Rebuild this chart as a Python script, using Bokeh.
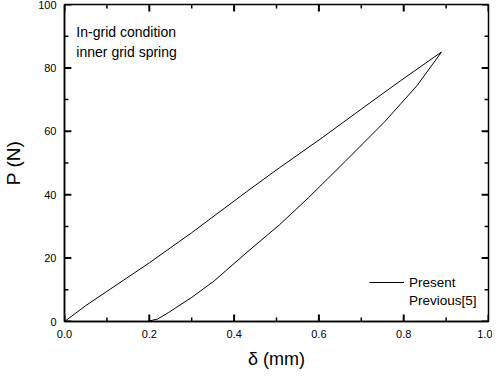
from bokeh.plotting import figure
from bokeh.models import (Range1d, FixedTicker, PrintfTickFormatter,
                          Label, Legend, LegendItem)
from bokeh.embed import file_html
from bokeh.resources import INLINE

# Data
loading_delta = [0.0, 0.05, 0.1, 0.2, 0.3, 0.43, 0.507, 0.608, 0.70, 0.793, 0.889]
loading_P = [0.0, 5.0, 9.5, 18.5, 28.0, 41.0, 48.5, 58.0, 67.0, 76.0, 85.0]
unloading_delta = [0.195, 0.22, 0.245, 0.30, 0.353, 0.43, 0.507, 0.575, 0.662, 0.755, 0.832, 0.889]
unloading_P = [0.0, 0.8, 2.8, 7.6, 12.8, 21.8, 30.5, 39.0, 50.5, 63.0, 74.5, 85.0]
previous_delta = []
previous_P = []

x_major_ticks = [0.0, 0.2, 0.4, 0.6, 0.8, 1.0]
x_minor_ticks = [0.1, 0.3, 0.5, 0.7, 0.9]
y_major_ticks = [0, 20, 40, 60, 80, 100]
y_minor_ticks = [10, 30, 50, 70, 90]

x_label = "δ (mm)"
y_label = "P (N)"
note_lines = ["In-grid condition", "inner grid spring"]
legend_labels = ["Present", "Previous[5]"]

FONT = "Liberation Sans"
X0, X1, Y0, Y1 = 0, 1, 0, 100
W, H = 492, 372
BL, BR, BT, BB = 56, 4, 4, 51
FW, FH = W - BL - BR, H - BT - BB

p = figure(width=W, height=H, output_backend="svg", toolbar_location=None,
           x_range=Range1d(X0, X1), y_range=Range1d(Y0, Y1),
           min_border_left=BL, min_border_right=BR, min_border_top=BT, min_border_bottom=BB)
p.xgrid.visible = False
p.ygrid.visible = False
p.outline_line_color = "black"
p.outline_line_width = 1.5
p.background_fill_color = "white"
p.border_fill_color = "white"

for ax, major in ((p.xaxis[0], x_major_ticks), (p.yaxis[0], y_major_ticks)):
    ax.ticker = FixedTicker(ticks=major)
    ax.axis_line_color = "black"
    ax.axis_line_width = 1.5
    ax.major_tick_in = 0
    ax.major_tick_out = 0
    ax.minor_tick_in = 0
    ax.minor_tick_out = 0
    ax.major_label_text_font = FONT
    ax.major_label_text_font_size = "11px"
    ax.major_label_text_color = "black"
    ax.major_label_standoff = 8
    ax.axis_label_text_font = FONT
    ax.axis_label_text_font_style = "normal"
    ax.axis_label_text_color = "black"

xa = p.xaxis[0]
xa.formatter = PrintfTickFormatter(format="%.1f")
xa.axis_label = x_label
xa.axis_label_text_font_size = "18px"
xa.axis_label_standoff = 8

ya = p.yaxis[0]
ya.axis_label = y_label
ya.axis_label_text_font_size = "19px"
ya.axis_label_standoff = 11

# inward tick marks on all four sides (lengths in pixels converted to data units)
px_x = (X1 - X0) / FW
px_y = (Y1 - Y0) / FH
MAJ, MIN = 7, 4
for ticks, length, lw in ((x_major_ticks, MAJ, 2), (x_minor_ticks, MIN, 1.5)):
    n = len(ticks)
    p.segment(x0=ticks, y0=[Y0] * n, x1=ticks, y1=[Y0 + length * px_y] * n,
              line_color="black", line_width=lw)
    p.segment(x0=ticks, y0=[Y1] * n, x1=ticks, y1=[Y1 - length * px_y] * n,
              line_color="black", line_width=lw)
for ticks, length, lw in ((y_major_ticks, MAJ, 2), (y_minor_ticks, MIN, 1.5)):
    n = len(ticks)
    p.segment(x0=[X0] * n, y0=ticks, x1=[X0 + length * px_x] * n, y1=ticks,
              line_color="black", line_width=lw)
    p.segment(x0=[X1] * n, y0=ticks, x1=[X1 - length * px_x] * n, y1=ticks,
              line_color="black", line_width=lw)

r1 = p.line(loading_delta, loading_P, line_color="black", line_width=1)
r2 = p.line(unloading_delta, unloading_P, line_color="black", line_width=1)
r3 = p.scatter(previous_delta, previous_P, marker="circle", size=6,
               fill_alpha=0, line_alpha=0)

legend = Legend(items=[LegendItem(label=legend_labels[0], renderers=[r1]),
                       LegendItem(label=legend_labels[1], renderers=[r3])],
                location=(305, 12), padding=0, margin=0, spacing=0,
                glyph_width=35, glyph_height=18, label_height=18, label_standoff=5,
                label_text_font=FONT, label_text_font_size="13.5px",
                label_text_color="black",
                border_line_alpha=0, background_fill_alpha=0)
p.add_layout(legend, "center")

for txt, yv in zip(note_lines, [91.2, 84.9]):
    p.add_layout(Label(x=0.028, y=yv, text=txt, text_font=FONT, text_font_size="14px",
                       text_baseline="alphabetic", text_color="black"))

open("out.html", "w").write(file_html(p, INLINE))
